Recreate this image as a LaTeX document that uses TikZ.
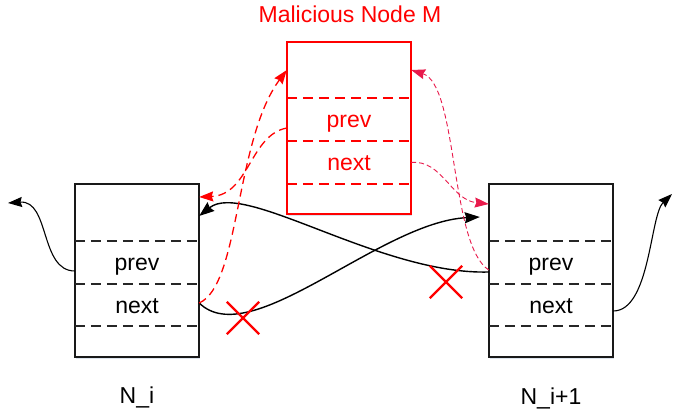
\documentclass[tikz,border=0pt]{standalone}
\usepackage{fontspec}
\setmainfont{Liberation Sans}
\usetikzlibrary{arrows.meta,shapes.misc,shadows}
\definecolor{mal}{RGB}{255,0,0}
\definecolor{crim}{RGB}{232,25,75}
\definecolor{sepgray}{RGB}{38,38,38}
\definecolor{shade}{RGB}{205,216,230}

\begin{document}
\begin{tikzpicture}[x=1pt,y=-1pt,
  font=\fontsize{23}{27}\selectfont,
  box/.style={draw=black!90, line width=1.1pt, fill=white, minimum width=124pt,
    minimum height=173pt, inner sep=0pt,
    drop shadow={shadow xshift=1pt, shadow yshift=-1.6pt, fill=shade, opacity=0.7}},
  malbox/.style={box, draw=mal, minimum height=172pt},
  cell/.style={minimum width=124pt, inner sep=0pt, text height=19pt, text depth=2pt},
  sep/.style={draw=sepgray, line width=1.6pt, dash pattern=on 10pt off 6pt},
  malsep/.style={sep, draw=mal},
  link/.style={draw=black, line width=1.4pt,
    -{Stealth[length=15pt,width=11pt,inset=1.5pt]}},
  thinlink/.style={link, line width=1.1pt, -{Stealth[length=14pt,width=10pt,inset=1.5pt]}},
  evil/.style={draw=mal, line width=1.3pt, dash pattern=on 8pt off 5pt,
    -{Stealth[length=14pt,width=10pt,inset=1.5pt]}},
  evilthin/.style={draw=crim, line width=0.9pt, dash pattern=on 5pt off 3pt,
    -{Stealth[length=14pt,width=10pt,inset=1.5pt]}},
  cut/.style={cross out, draw=mal, line width=2.4pt, minimum size=30pt, inner sep=0pt}
]
\useasboundingbox (0,0) rectangle (673,414);

% ---------- list node N_i ----------
\node[box] (ni) at (137,270.5) {};
\node[cell, minimum height=57pt] (nitop) at (137,212.5) {};
\node[cell, minimum height=43pt] (niprev) at (137,262.5) {prev};
\node[cell, minimum height=42pt] (ninext) at (137,305) {next};
\draw[sep] (niprev.north west) -- (niprev.north east);
\draw[sep] (niprev.south west) -- (niprev.south east);
\draw[sep] (ninext.south west) -- (ninext.south east);

% ---------- list node N_i+1 ----------
\node[box] (nj) at (551,270.5) {};
\node[cell, minimum height=57pt] (njtop) at (551,212.5) {};
\node[cell, minimum height=43pt] (njprev) at (551,262.5) {prev};
\node[cell, minimum height=42pt] (njnext) at (551,305) {next};
\draw[sep] (njprev.north west) -- (njprev.north east);
\draw[sep] (njprev.south west) -- (njprev.south east);
\draw[sep] (njnext.south west) -- (njnext.south east);

% ---------- malicious node M ----------
\node[malbox] (m) at (349,128) {};
\node[cell, minimum height=56pt] (mtop) at (349,70) {};
\node[cell, minimum height=43pt, text=mal] (mprev) at (349,119.5) {prev};
\node[cell, minimum height=43pt, text=mal] (mnext) at (349,162.5) {next};
\draw[malsep] (mprev.north west) -- (mprev.north east);
\draw[malsep] (mprev.south west) -- (mprev.south east);
\draw[malsep] (mnext.south west) -- (mnext.south east);

% ---------- labels ----------
\node[anchor=base, text=mal] (title) at (350,23) {Malicious Node M};
\node[anchor=base] (lblni) at (137,403) {N\_i};
\node[anchor=base] (lblnj) at (551,405) {N\_i+1};

% ---------- links to the rest of the list ----------
\coordinate (leftend) at (8,203);
\coordinate (rightend) at (672,194);
\draw[thinlink] ([yshift=-8.5pt]niprev.west) .. controls +(-35,0) and +(42,-3) .. (leftend);
\draw[thinlink] ([yshift=-6pt]njnext.east) .. controls +(37,0) and +(-22,21) .. (rightend);

% ---------- original links between N_i and N_i+1 ----------
\draw[link] ([yshift=-9.5pt]njprev.west) .. controls +(-109,3) and +(45,-36) .. ([yshift=-3.5pt]nitop.east);
\draw[link] ([yshift=2pt]ninext.east) .. controls +(51,50) and +(-100,5) .. ([xshift=-9pt,yshift=-4.5pt]njtop.west);

% ---------- links redirected through M ----------
\draw[evil] ([yshift=2pt]ninext.east) .. controls +(41,-18) and +(-52,70) .. (mtop.west);
\draw[evil] ([yshift=-8.5pt]mprev.west) .. controls +(-37,7) and +(50,-2) .. ([yshift=15.5pt]nitop.east);
\draw[evilthin] ([yshift=-7.5pt]njprev.west) .. controls +(-39,-25) and +(47,15) .. (mtop.east);
\draw[evilthin] (mnext.east) .. controls +(31,-3) and +(-38,-4) .. ([yshift=8.5pt]njtop.west);

% ---------- broken links ----------
\node[cut] (cut1) at (243,318) {};
\node[cut] (cut2) at (446,282) {};
\end{tikzpicture}
\end{document}
